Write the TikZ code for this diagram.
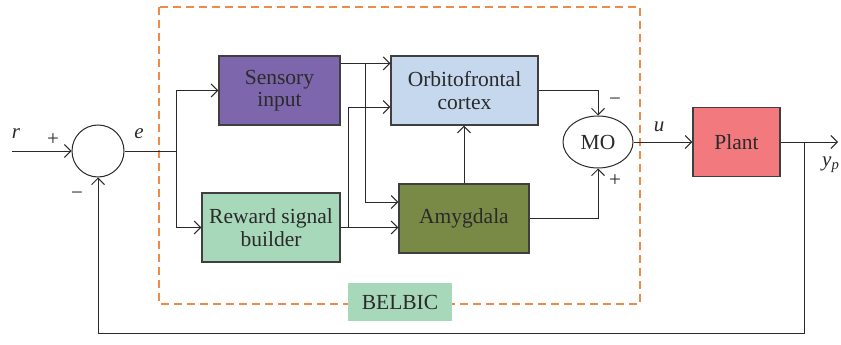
\documentclass[tikz,border=0pt]{standalone}
\usepackage{fontspec}
\setmainfont{Liberation Serif}
\usetikzlibrary{arrows.meta,calc,shapes.geometric}
\definecolor{sensory}{HTML}{7E66AC}
\definecolor{ofc}{HTML}{C6D8EE}
\definecolor{amyg}{HTML}{798A46}
\definecolor{mint}{HTML}{A8D8BA}
\definecolor{plantc}{HTML}{F27A7E}
\definecolor{frame}{HTML}{EE8A4A}
\definecolor{ink}{HTML}{2A2A2A}
\tikzset{
  blk/.style={draw=ink!90, line width=1.2pt, minimum height=69pt, inner sep=0pt,
    align=center, text=ink, font=\fontsize{21.5}{22.5}\selectfont},
  wire/.style={draw=ink, line width=1pt},
  arr/.style={wire, -{Straight Barb[length=6.5pt,width=13pt,line width=1pt]}},
  lbl/.style={text=ink, font=\fontsize{21}{22}\selectfont, inner sep=0pt},
}
\begin{document}
\begin{tikzpicture}[x=1pt,y=-1pt]
\useasboundingbox (0,0) rectangle (841,345);

% BELBIC frame
\draw[frame, line width=1.2pt, dash pattern=on 8pt off 5pt] (159,7) rectangle (640,304);
\node[fill=mint, minimum width=104pt, minimum height=38pt, inner sep=0pt,
  font=\fontsize{21.5}{22}\selectfont, text=ink] (belbic) at (400,302) {BELBIC};

% summing junction
\node[draw=ink, line width=1pt, circle, minimum size=52pt, inner sep=0pt] (sj) at (98,151) {};
\coordinate (rin) at (12,151);
\coordinate (br) at (176,151);

% blocks
\node[blk, fill=sensory, minimum width=121pt] (si) at (279.5,90.5) {Sensory\\input};
\node[blk, fill=mint, minimum width=138pt] (rw) at (271,227.5) {Reward signal\\builder};
\node[blk, fill=ofc, minimum width=147pt] (ofc) at (464.5,90.5) {Orbitofrontal\\cortex};
\node[blk, fill=amyg, minimum width=130pt] (am) at (464,218.5) {Amygdala};
\node[draw=ink, line width=1pt, ellipse, minimum width=70pt, minimum height=52pt,
  inner sep=0pt, text=ink, font=\fontsize{21.5}{22}\selectfont] (mo) at (598,142) {MO};
\node[blk, fill=plantc, minimum width=87pt] (pl) at (736.5,142) {Plant};
\coordinate (yout) at (838,142);
\coordinate (fb) at (804,142);

% input and error
\draw[arr] (rin) -- (sj.west);
\draw[wire] (sj.east) -- (br);
\draw[arr] (br) |- (si.west);
\draw[arr] (br) |- (rw.west);

% sensory input to OFC and amygdala
\draw[arr] ([yshift=-8pt]si.north east) -- ([yshift=-8pt]ofc.north west);
\draw[arr] ([xshift=25pt,yshift=-8pt]si.north east) |- ([yshift=16.5pt]am.west);

% reward signal to amygdala and OFC
\draw[arr] (rw.east) -- (rw.east -| am.west);
\draw[arr] ([xshift=8pt]rw.east) |- ([yshift=-16.5pt]ofc.west);

% amygdala to OFC, both to MO
\draw[arr] (am.north) -- (am.north |- ofc.south);
\draw[arr] (ofc.east) -| (mo.north);
\draw[arr] (am.east) -| (mo.south);

% MO to plant, output and feedback
\draw[arr] (mo.east) -- (pl.west);
\draw[arr] (pl.east) -- (yout);
\draw[arr] (fb) -- ++(0,191) -| (sj.south);

% signs and signal names
\node[lbl] (lr) at (16,134) {\itshape r};
\node[lbl] (lp1) at (53,140) {+};
\node[lbl] (lm1) at (77,196) {−};
\node[lbl] (le) at (139,134) {\itshape e};
\node[lbl] (lm2) at (615,102) {−};
\node[lbl] (lp2) at (615,181) {+};
\node[lbl] (lu) at (659,127) {\itshape u};
\node[lbl, anchor=west] (ly) at (822,165) {\itshape y\textsubscript{p}};
\end{tikzpicture}
\end{document}
